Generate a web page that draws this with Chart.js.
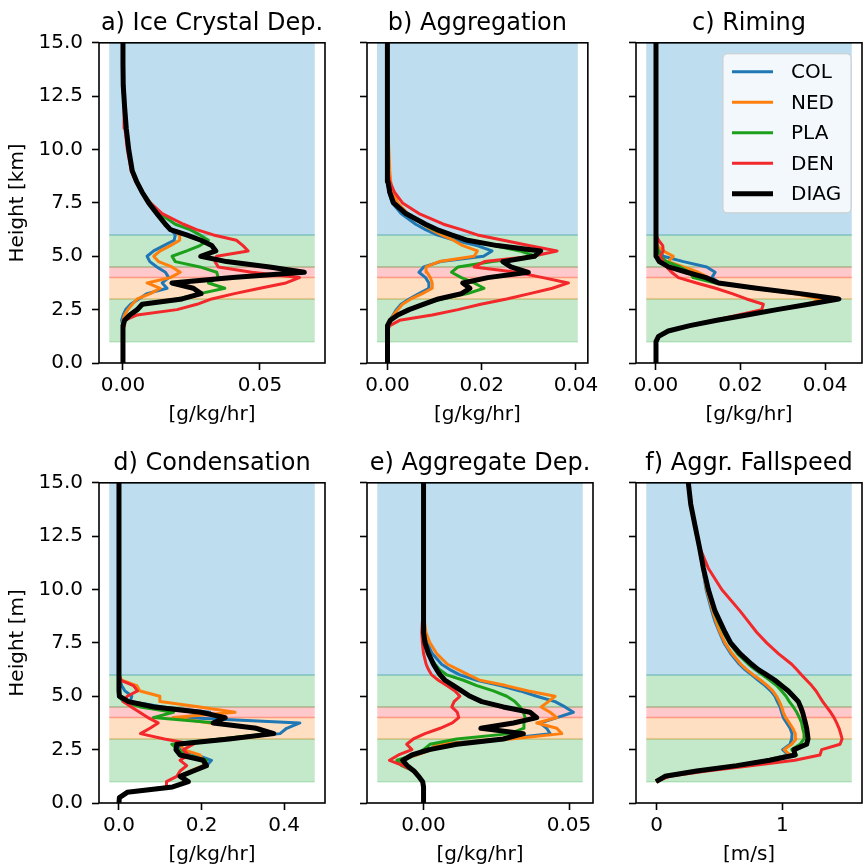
<!DOCTYPE html>
<html>
<head>
<meta charset="utf-8">
<script src="https://cdn.jsdelivr.net/npm/chart.js@4/dist/chart.umd.min.js"></script>
<style>
  html, body { margin: 0; padding: 0; background: #fff; width: 863px; height: 867px; overflow: hidden; }
  canvas.panel { position: absolute; }
</style>
</head>
<body>
<canvas id="panel0" class="panel" width="335" height="427" style="left:0px;top:0px"></canvas>
<canvas id="panel1" class="panel" width="335" height="427" style="left:268px;top:0px"></canvas>
<canvas id="panel2" class="panel" width="335" height="427" style="left:537px;top:0px"></canvas>
<canvas id="panel3" class="panel" width="335" height="427" style="left:0px;top:440px"></canvas>
<canvas id="panel4" class="panel" width="335" height="427" style="left:268px;top:440px"></canvas>
<canvas id="panel5" class="panel" width="335" height="427" style="left:537px;top:440px"></canvas>
<script>
/**
 * Microphysics process profiles - six panels, one per process
 */

// model levels [km]
const heightKm = [0, 0.25, 0.5, 0.75, 1, 1.25, 1.5, 1.75, 2, 2.25, 2.5, 2.75, 3, 3.25, 3.5, 3.75,
  4, 4.25, 4.5, 4.75, 5, 5.25, 5.5, 5.75, 6, 6.25, 6.5, 7, 7.5, 8, 8.5, 9, 10, 11, 12, 13, 14, 15];

const schemeNames = ["COL", "NED", "PLA", "DEN", "DIAG"];
const schemeColors = ["#1f77b4", "#ff7f0e", "#1ca01c", "#f2282a", "#000000"];
const schemeWidths = [3, 3, 3, 3, 5];

// a) ice crystal deposition [g/kg/hr], rows: COL, NED, PLA, DEN, DIAG
const iceCrystalDep = [
  [0, 0, 0, 0, 0, 0, 0, 0, -0.0005, 0.0001, 0.0010, 0.0028, 0.0058, 0.0088, 0.0161, 0.0143, 0.0167, 0.0155, 0.0124, 0.0098, 0.0088, 0.0112, 0.0149, 0.0187, 0.0191, 0.0175, 0.0155, 0.0122, 0.0094, 0.0070, 0.0050, 0.0034, 0.0021, 0.0012, 0.0006, 0.0001, 0, 0],
  [0, 0, 0, 0, 0, 0, 0, 0, 0, 0.0006, 0.0018, 0.0034, 0.0052, 0.0100, 0.0136, 0.0088, 0.0173, 0.0209, 0.0179, 0.0130, 0.0112, 0.0136, 0.0173, 0.0207, 0.0207, 0.0179, 0.0158, 0.0127, 0.0098, 0.0072, 0.0051, 0.0034, 0.0021, 0.0012, 0.0006, 0.0001, 0, 0],
  [0, 0, 0, 0, 0, 0, 0, 0, 0.0004, 0.0028, 0.0058, 0.0076, 0.0197, 0.0281, 0.0372, 0.0312, 0.0348, 0.0342, 0.0281, 0.0191, 0.0179, 0.0233, 0.0281, 0.0312, 0.0281, 0.0245, 0.0191, 0.0134, 0.0100, 0.0072, 0.0050, 0.0034, 0.0021, 0.0012, 0.0006, 0.0001, 0, 0],
  [0, 0, 0, 0, 0, 0, 0.0001, 0.0004, 0.0006, 0.0052, 0.0197, 0.0270, 0.0324, 0.0407, 0.0500, 0.0595, 0.0644, 0.0470, 0.0348, 0.0336, 0.0342, 0.0457, 0.0438, 0.0414, 0.0330, 0.0269, 0.0221, 0.0143, 0.0100, 0.0070, 0.0046, 0.0030, 0.0016, 0.0007, 0.0004, 0, 0, 0],
  [0, 0, 0, 0, 0, 0, 0, 0, 0.0006, 0.0025, 0.0052, 0.0070, 0.0216, 0.0285, 0.0257, 0.0179, 0.0400, 0.0662, 0.0535, 0.0378, 0.0284, 0.0339, 0.0324, 0.0285, 0.0232, 0.0173, 0.0155, 0.0124, 0.0094, 0.0070, 0.0050, 0.0034, 0.0021, 0.0012, 0.0006, 0.0001, 0, 0],
];

// b) aggregation [g/kg/hr]
const aggregation = [
  [0, 0, 0, 0, 0, 0, 0, 0.0001, 0.0005, 0.0012, 0.0019, 0.0029, 0.0046, 0.0067, 0.0088, 0.0088, 0.0081, 0.0067, 0.0077, 0.0113, 0.0204, 0.0222, 0.0190, 0.0143, 0.0105, 0.0081, 0.0060, 0.0029, 0.0010, 0.0003, 0.0001, 0, 0, 0, 0, 0, 0, 0],
  [0, 0, 0, 0, 0, 0, 0, 0.0002, 0.0006, 0.0013, 0.0022, 0.0032, 0.0050, 0.0074, 0.0095, 0.0095, 0.0091, 0.0084, 0.0082, 0.0110, 0.0184, 0.0191, 0.0160, 0.0140, 0.0115, 0.0093, 0.0075, 0.0043, 0.0022, 0.0012, 0.0007, 0.0005, 0.0003, 0.0001, 0, 0, 0, 0],
  [0, 0, 0, 0, 0, 0, 0, 0.0002, 0.0008, 0.0022, 0.0043, 0.0074, 0.0115, 0.0170, 0.0205, 0.0184, 0.0157, 0.0136, 0.0150, 0.0223, 0.0315, 0.0281, 0.0226, 0.0170, 0.0129, 0.0098, 0.0077, 0.0039, 0.0013, 0.0005, 0.0001, 0, 0, 0, 0, 0, 0, 0],
  [0, 0, 0, 0, 0, 0, 0.0001, 0.0005, 0.0026, 0.0095, 0.0150, 0.0198, 0.0253, 0.0302, 0.0350, 0.0384, 0.0330, 0.0274, 0.0184, 0.0206, 0.0308, 0.0360, 0.0300, 0.0246, 0.0191, 0.0157, 0.0119, 0.0067, 0.0032, 0.0015, 0.0005, 0.0001, 0, 0, 0, 0, 0, 0],
  [0, 0, 0, 0, 0, 0, 0, 0.0001, 0.0006, 0.0022, 0.0046, 0.0076, 0.0108, 0.0157, 0.0175, 0.0160, 0.0213, 0.0299, 0.0262, 0.0245, 0.0312, 0.0325, 0.0233, 0.0170, 0.0136, 0.0105, 0.0081, 0.0039, 0.0013, 0.0005, 0.0001, 0, 0, 0, 0, 0, 0, 0],
];

// c) riming [g/kg/hr]
const riming = [
  [0, 0, 0, 0, 0, 0.0006, 0.0029, 0.0080, 0.0145, 0.0216, 0.0290, 0.0364, 0.0436, 0.0345, 0.0242, 0.0151, 0.0132, 0.0140, 0.0120, 0.0065, 0.0017, 0.0009, 0.0003, 0, 0, 0, 0, 0, 0, 0, 0, 0, 0, 0, 0, 0, 0, 0],
  [0, 0, 0, 0, 0, 0.0006, 0.0028, 0.0079, 0.0142, 0.0213, 0.0282, 0.0357, 0.0392, 0.0325, 0.0230, 0.0148, 0.0124, 0.0100, 0.0065, 0.0029, 0.0041, 0.0017, 0.0003, 0, 0, 0, 0, 0, 0, 0, 0, 0, 0, 0, 0, 0, 0, 0],
  [0, 0, 0, 0, 0, 0.0006, 0.0029, 0.0080, 0.0144, 0.0215, 0.0286, 0.0361, 0.0424, 0.0337, 0.0234, 0.0140, 0.0088, 0.0080, 0.0057, 0.0025, 0.0011, 0.0006, 0.0002, 0, 0, 0, 0, 0, 0, 0, 0, 0, 0, 0, 0, 0, 0, 0],
  [0, 0, 0, 0, 0, 0.0006, 0.0029, 0.0085, 0.0140, 0.0195, 0.0250, 0.0254, 0.0214, 0.0180, 0.0141, 0.0096, 0.0053, 0.0037, 0.0025, 0.0016, 0.0011, 0.0017, 0.0016, 0.0006, 0, 0, 0, 0, 0, 0, 0, 0, 0, 0, 0, 0, 0, 0],
  [0, 0, 0, 0, 0, 0.0006, 0.0029, 0.0080, 0.0144, 0.0215, 0.0286, 0.0361, 0.0432, 0.0341, 0.0238, 0.0148, 0.0118, 0.0073, 0.0030, 0.0008, 0, 0, 0, 0, 0, 0, 0, 0, 0, 0, 0, 0, 0, 0, 0, 0, 0, 0],
];

// d) condensation [g/kg/hr]
const condensation = [
  [0, 0.001, 0.02, 0.13, 0.165, 0.148, 0.176, 0.212, 0.224, 0.188, 0.152, 0.136, 0.261, 0.390, 0.406, 0.438, 0.156, 0.220, 0.107, 0.027, 0.031, 0.0145, 0.0065, 0.0024, 0, 0, 0, 0, 0, 0, 0, 0, 0, 0, 0, 0, 0, 0],
  [0, 0.001, 0.02, 0.13, 0.165, 0.146, 0.172, 0.204, 0.204, 0.196, 0.156, 0.148, 0.245, 0.366, 0.341, 0.220, 0.131, 0.281, 0.196, 0.099, 0.099, 0.051, 0.043, 0.0065, 0, 0, 0, 0, 0, 0, 0, 0, 0, 0, 0, 0, 0, 0],
  [0, 0.001, 0.02, 0.13, 0.165, 0.146, 0.176, 0.208, 0.212, 0.164, 0.144, 0.128, 0.245, 0.362, 0.325, 0.236, 0.083, 0.132, 0.051, 0.0105, 0, 0, 0, 0, 0, 0, 0, 0, 0, 0, 0, 0, 0, 0, 0, 0, 0, 0],
  [0, 0.001, 0.02, 0.115, 0.115, 0.140, 0.148, 0.164, 0.148, 0.168, 0.156, 0.180, 0.110, 0.052, 0.075, 0.095, 0.070, 0.050, 0.030, 0.010, 0.020, 0.045, 0.035, 0.005, 0, 0, 0, 0, 0, 0, 0, 0, 0, 0, 0, 0, 0, 0],
  [0, 0.001, 0.02, 0.13, 0.168, 0.148, 0.180, 0.212, 0.204, 0.148, 0.138, 0.140, 0.267, 0.375, 0.333, 0.228, 0.257, 0.198, 0.085, 0.023, 0.001, 0, 0, 0, 0, 0, 0, 0, 0, 0, 0, 0, 0, 0, 0, 0, 0, 0],
];

// e) aggregate deposition [g/kg/hr]
const aggregateDep = [
  [0, 0, 0, 0, -0.0003, -0.0018, -0.0035, -0.0069, -0.0086, -0.0024, 0.0022, 0.0045, 0.0274, 0.0435, 0.0423, 0.0400, 0.0458, 0.0515, 0.0486, 0.0452, 0.0389, 0.0332, 0.0263, 0.0183, 0.0125, 0.0090, 0.0062, 0.0030, 0.0012, 0.0004, 0.0001, 0, 0, 0, 0, 0, 0, 0],
  [0, 0, 0, 0, -0.0003, -0.0014, -0.0029, -0.0069, -0.0086, -0.0024, 0.0028, 0.0040, 0.0300, 0.0475, 0.0458, 0.0389, 0.0458, 0.0435, 0.0404, 0.0429, 0.0452, 0.0360, 0.0283, 0.0194, 0.0155, 0.0119, 0.0082, 0.0045, 0.0022, 0.0008, 0.0003, 0.0001, 0, 0, 0, 0, 0, 0],
  [0, 0, 0, 0, -0.0003, -0.0018, -0.0035, -0.0075, -0.0092, -0.0030, 0.0000, 0.0022, 0.0114, 0.0297, 0.0343, 0.0345, 0.0349, 0.0343, 0.0332, 0.0314, 0.0286, 0.0240, 0.0183, 0.0137, 0.0080, 0.0055, 0.0040, 0.0013, 0.0004, 0.0001, 0, 0, 0, 0, 0, 0, 0, 0],
  [0, 0, 0, 0, -0.0003, -0.0018, -0.0035, -0.0070, -0.0117, -0.0086, -0.0040, -0.0058, -0.0035, 0.0005, 0.0057, 0.0099, 0.0121, 0.0116, 0.0097, 0.0105, 0.0125, 0.0108, 0.0080, 0.0051, 0.0028, 0.0017, 0.0009, 0.0000, -0.0004, -0.0006, -0.0004, -0.0002, 0, 0, 0, 0, 0, 0],
  [0, 0, 0, 0, -0.0003, -0.0017, -0.0033, -0.0056, -0.0072, -0.0040, 0.0020, 0.0114, 0.0274, 0.0343, 0.0197, 0.0309, 0.0389, 0.0366, 0.0274, 0.0200, 0.0160, 0.0131, 0.0103, 0.0074, 0.0057, 0.0045, 0.0034, 0.0017, 0.0005, 0, 0, 0, 0, 0, 0, 0, 0, 0],
];

// f) aggregate fallspeed [m/s], no values below 1 km
const aggrFallspeed = [
  [null, null, null, null, -0.005, 0.066, 0.310, 0.620, 0.870, 1.048, 1.003, 1.062, 1.075, 1.078, 1.062, 1.035, 1.008, 0.995, 0.982, 0.961, 0.942, 0.908, 0.863, 0.809, 0.756, 0.703, 0.658, 0.589, 0.536, 0.499, 0.464, 0.438, 0.393, 0.366, 0.340, 0.305, 0.271, 0.252],
  [null, null, null, null, -0.005, 0.066, 0.310, 0.620, 0.875, 1.062, 1.014, 1.075, 1.109, 1.104, 1.083, 1.056, 1.027, 1.008, 0.995, 0.977, 0.955, 0.924, 0.881, 0.828, 0.770, 0.717, 0.671, 0.600, 0.544, 0.504, 0.472, 0.446, 0.398, 0.366, 0.340, 0.305, 0.271, 0.252],
  [null, null, null, null, -0.005, 0.060, 0.315, 0.630, 0.885, 1.115, 1.075, 1.141, 1.173, 1.173, 1.162, 1.154, 1.136, 1.115, 1.088, 1.056, 1.030, 0.995, 0.955, 0.902, 0.844, 0.783, 0.730, 0.642, 0.579, 0.531, 0.491, 0.456, 0.406, 0.372, 0.340, 0.305, 0.271, 0.252],
  [null, null, null, null, -0.005, 0.100, 0.400, 0.750, 1.100, 1.300, 1.314, 1.460, 1.476, 1.465, 1.452, 1.433, 1.412, 1.385, 1.353, 1.322, 1.295, 1.269, 1.234, 1.194, 1.154, 1.115, 1.075, 0.969, 0.876, 0.796, 0.730, 0.663, 0.518, 0.411, 0.340, 0.305, 0.271, 0.252],
  [null, null, null, null, -0.005, 0.066, 0.318, 0.637, 0.900, 1.101, 1.093, 1.194, 1.205, 1.200, 1.194, 1.184, 1.173, 1.162, 1.146, 1.128, 1.088, 1.048, 0.995, 0.942, 0.876, 0.809, 0.756, 0.663, 0.589, 0.544, 0.504, 0.464, 0.411, 0.372, 0.340, 0.305, 0.271, 0.252],
];

const panelSeries = [iceCrystalDep, aggregation, riming, condensation, aggregateDep, aggrFallspeed];
const panelTitles = ["a) Ice Crystal Dep.", "b) Aggregation", "c) Riming", "d) Condensation", "e) Aggregate Dep.", "f) Aggr. Fallspeed"];
const panelUnits = ["[g/kg/hr]", "[g/kg/hr]", "[g/kg/hr]", "[g/kg/hr]", "[g/kg/hr]", "[m/s]"];
const panelXTicks = [[0, 0.05], [0, 0.02, 0.04], [0, 0.02, 0.04], [0, 0.2, 0.4], [0, 0.05], [0, 1]];
const panelXDecimals = [2, 2, 2, 1, 2, 0];
// horizontal extent of the layer shading in each panel (data units)
const panelShadeX = [[-0.005, 0.07], [-0.0022, 0.0404], [-0.0023, 0.0463], [-0.0235, 0.474], [-0.0159, 0.0547], [-0.083, 1.553]];
const heightLabels = ["Height [km]", "Height [m]"];

// layers [km]: rain, melting, mixed, ice-only etc.
const layerEdges = [1, 3, 4, 4.5, 6, 15];
const layerColors = [
  "rgba(60, 180, 80, 0.3)",
  "rgba(255, 150, 50, 0.3)",
  "rgba(255, 60, 70, 0.28)",
  "rgba(60, 180, 80, 0.3)",
  "rgba(100, 175, 215, 0.42)",
];

Chart.defaults.font.family = "'DejaVu Sans', sans-serif";
Chart.defaults.color = "#000";

const layerShading = {
  id: "layerShading",
  beforeDatasetsDraw(chart, args, opts) {
    const { ctx, chartArea, scales } = chart;
    const xs = scales.x, ys = scales.y;
    const left = xs.getPixelForValue(opts.xRange[0]);
    const right = xs.getPixelForValue(opts.xRange[1]);
    ctx.save();
    ctx.beginPath();
    ctx.rect(chartArea.left, chartArea.top, chartArea.width, chartArea.height);
    ctx.clip();
    ctx.lineWidth = 1.5;
    for (let i = 0; i < layerColors.length; i++) {
      const bottom = ys.getPixelForValue(layerEdges[i]);
      const top = ys.getPixelForValue(layerEdges[i + 1]);
      ctx.fillStyle = layerColors[i];
      ctx.strokeStyle = layerColors[i];
      ctx.fillRect(left, top, right - left, bottom - top);
      ctx.beginPath();
      ctx.moveTo(left, top); ctx.lineTo(right, top);
      ctx.moveTo(left, bottom); ctx.lineTo(right, bottom);
      ctx.stroke();
    }
    ctx.restore();
  },
};

const axesFrame = {
  id: "axesFrame",
  afterDraw(chart) {
    const { ctx, chartArea } = chart;
    ctx.save();
    ctx.strokeStyle = "#000";
    ctx.lineWidth = 1.6;
    ctx.strokeRect(chartArea.left, chartArea.top, chartArea.width, chartArea.height);
    ctx.restore();
  },
};

// matplotlib-style legend box in the upper right of the axes
const boxLegend = {
  id: "boxLegend",
  afterDraw(chart, args, opts) {
    if (!opts.show) return;
    const { ctx, chartArea } = chart;
    const w = 128, h = 159;
    const x0 = chartArea.right - 11 - w, y0 = chartArea.top + 11;
    ctx.save();
    ctx.beginPath();
    ctx.roundRect(x0, y0, w, h, 4);
    ctx.fillStyle = "rgba(255,255,255,0.8)";
    ctx.fill();
    ctx.strokeStyle = "#cccccc";
    ctx.lineWidth = 1;
    ctx.stroke();
    ctx.font = "20px 'DejaVu Sans'";
    ctx.textBaseline = "middle";
    ctx.textAlign = "left";
    chart.data.datasets.forEach((ds, k) => {
      const yy = y0 + 18 + k * 30.5;
      ctx.beginPath();
      ctx.moveTo(x0 + 9, yy);
      ctx.lineTo(x0 + 50, yy);
      ctx.strokeStyle = ds.borderColor;
      ctx.lineWidth = ds.borderWidth;
      ctx.stroke();
      ctx.fillStyle = "#000";
      ctx.fillText(ds.label, x0 + 68, yy + 1);
    });
    ctx.restore();
  },
};

window.panelCharts = [];

panelSeries.forEach((series, p) => {
  const col = p % 3, row = Math.floor(p / 3);
  const [s0, s1] = panelShadeX[p];
  const margin = 0.05 * (s1 - s0);

  const datasets = series.map((vals, k) => ({
    label: schemeNames[k],
    data: heightKm.map((hgt, j) => ({ x: vals[j], y: hgt })),
    showLine: true,
    borderColor: schemeColors[k],
    backgroundColor: schemeColors[k],
    borderWidth: schemeWidths[k],
    borderJoinStyle: "round",
    pointRadius: 0,
    tension: 0,
    order: schemeNames.length - k,
  }));

  const ctx = document.getElementById("panel" + p).getContext("2d");
  const chart = new Chart(ctx, {
    type: "scatter",
    data: { datasets },
    plugins: [layerShading, axesFrame, boxLegend],
    options: {
      responsive: false,
      animation: false,
      events: [],
      layout: { padding: { left: 0, top: 0, right: 10, bottom: 0 } },
      scales: {
        x: {
          type: "linear",
          min: s0 - margin,
          max: s1 + margin,
          afterBuildTicks: (scale) => {
            scale.ticks = panelXTicks[p].map((v) => ({ value: v }));
          },
          afterFit: (scale) => { scale.height = 64; },
          ticks: {
            padding: 4,
            font: { size: 20 },
            maxRotation: 0,
            callback: (v) => Number(v).toFixed(panelXDecimals[p]),
          },
          grid: { display: true, drawOnChartArea: false, drawTicks: true, tickLength: 7, tickWidth: 1.6, tickColor: "#000" },
          border: { display: false },
          title: { display: true, text: panelUnits[p], font: { size: 20 }, padding: { top: 0, bottom: 0 } },
        },
        y: {
          type: "linear",
          min: 0,
          max: 15,
          afterFit: (scale) => { scale.width = 99; },
          ticks: {
            stepSize: 2.5,
            padding: 9,
            display: col === 0,
            font: { size: 20 },
            callback: (v) => Number(v).toFixed(1),
          },
          grid: { display: true, drawOnChartArea: false, drawTicks: true, tickLength: 7, tickWidth: 1.6, tickColor: "#000" },
          border: { display: false },
          title: { display: col === 0, text: heightLabels[row], font: { size: 20 }, padding: { top: 6, bottom: 0 } },
        },
      },
      plugins: {
        legend: { display: false },
        tooltip: { enabled: false },
        title: {
          display: true,
          text: panelTitles[p],
          fullSize: false,
          font: { size: 24, weight: "normal" },
          padding: { top: 9, bottom: 5 },
        },
        layerShading: { xRange: panelShadeX[p] },
        boxLegend: { show: p === 2 },
      },
    },
  });
  window.panelCharts.push(chart);
});
</script>
</body>
</html>
